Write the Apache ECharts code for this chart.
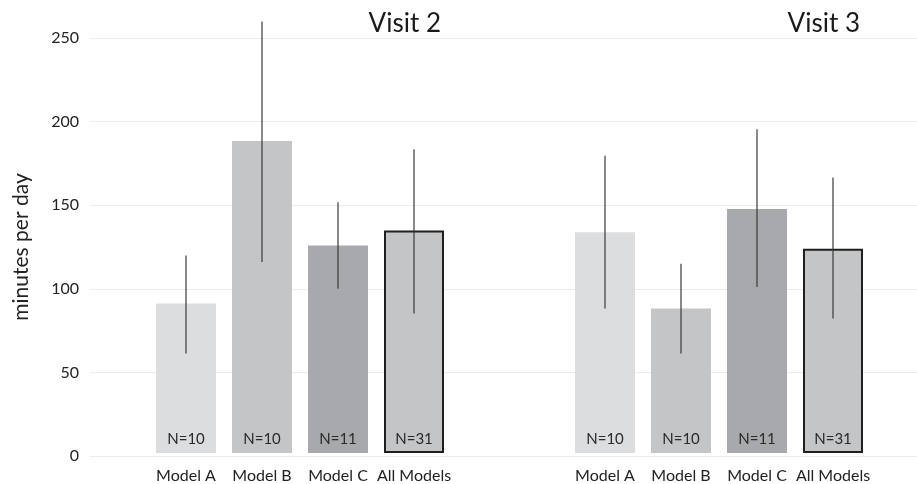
<!DOCTYPE html>
<html>
<head>
<meta charset="utf-8">
<script src="https://cdn.jsdelivr.net/npm/echarts@6/dist/echarts.min.js"></script>
<style>
  html, body { margin: 0; padding: 0; background: #fff; }
  #chart { width: 917px; height: 484px; }
</style>
</head>
<body>
<div id="chart"></div>
<script>
// Categories and per-visit summaries (mean with lower/upper error bounds)
const categories = ['Model A', 'Model B', 'Model C', 'All Models'];
const sampleSizes = ['N=10', 'N=10', 'N=11', 'N=31'];

const visit2Mean = [90, 188, 125, 134];
const visit2Low  = [60, 115, 99, 84];
const visit2High = [119, 260, 151, 183];

const visit3Mean = [133, 87, 147, 123];
const visit3Low  = [87, 60, 100, 81];
const visit3High = [179, 114, 195, 166];

const panelTitles = ['Visit 2', 'Visit 3'];
const yTicks = [0, 50, 100, 150, 200, 250];

const barColors = ['#dcdddf', '#c4c5c7', '#a8a9ac', '#c4c5c7'];
const FONT = 'Lato, "Open Sans", sans-serif';

const chart = echarts.init(document.getElementById('chart'), null, { renderer: 'canvas' });

const GRID_TOP = 38, GRID_BOTTOM = 28;

function barData(means) {
  return means.map((v, i) => {
    const item = { value: v, itemStyle: { color: barColors[i] } };
    if (i === categories.length - 1) {
      item.itemStyle.borderColor = '#1f1f1f';
      item.itemStyle.borderWidth = 2;
    }
    return item;
  });
}

function errData(low, high) {
  return low.map((l, i) => [i, l, high[i]]);
}

function errorSeries(axisIndex, low, high) {
  return {
    type: 'custom',
    xAxisIndex: axisIndex,
    yAxisIndex: axisIndex,
    clip: false,
    silent: true,
    z: 5,
    data: errData(low, high),
    renderItem: function (params, api) {
      const i = api.value(0);
      const p1 = api.coord([i, api.value(1)]);
      const p2 = api.coord([i, api.value(2)]);
      return {
        type: 'line',
        shape: { x1: p1[0], y1: p1[1], x2: p2[0], y2: p2[1] },
        style: { stroke: '#3a3a3a', lineWidth: 1.2 }
      };
    }
  };
}

function barSeries(axisIndex, means) {
  return {
    type: 'bar',
    xAxisIndex: axisIndex,
    yAxisIndex: axisIndex,
    barWidth: 60,
    data: barData(means),
    label: {
      show: true,
      position: 'insideBottom',
      distance: 6,
      formatter: p => sampleSizes[p.dataIndex],
      color: '#2a2a2a',
      fontSize: 15,
      fontFamily: FONT
    }
  };
}

const catAxis = (gridIndex) => ({
  type: 'category',
  gridIndex: gridIndex,
  data: categories,
  axisLine: { show: false },
  axisTick: { show: false },
  axisLabel: { color: '#222', fontSize: 16, fontFamily: FONT, margin: 15, interval: 0 }
});

const hiddenY = (gridIndex) => ({
  type: 'value',
  gridIndex: gridIndex,
  min: 0, max: 250, interval: 50,
  show: false
});

chart.setOption({
  backgroundColor: '#fff',
  animation: false,
  title: [
    { text: panelTitles[0], right: 471, top: 6,
      textStyle: { fontSize: 26, fontWeight: 'normal', color: '#1a1a1a', fontFamily: FONT } },
    { text: panelTitles[1], right: 52, top: 6,
      textStyle: { fontSize: 26, fontWeight: 'normal', color: '#1a1a1a', fontFamily: FONT } }
  ],
  grid: [
    { left: 90, right: 0, top: GRID_TOP, bottom: GRID_BOTTOM },
    { left: 148, width: 304, top: GRID_TOP, bottom: GRID_BOTTOM },
    { left: 567, width: 304, top: GRID_TOP, bottom: GRID_BOTTOM }
  ],
  xAxis: [
    { type: 'value', gridIndex: 0, show: false, min: 0, max: 1 },
    catAxis(1),
    catAxis(2)
  ],
  yAxis: [
    {
      type: 'value',
      gridIndex: 0,
      min: yTicks[0], max: yTicks[yTicks.length - 1], interval: 50,
      name: 'minutes per day',
      nameLocation: 'middle',
      nameRotate: 90,
      nameGap: 58,
      nameTextStyle: { fontSize: 21, color: '#222', fontFamily: FONT },
      axisLine: { show: false },
      axisTick: { show: false },
      axisLabel: { color: '#222', fontSize: 16, fontFamily: FONT, margin: 11 },
      splitLine: { lineStyle: { color: '#ececec', width: 1 } }
    },
    hiddenY(1),
    hiddenY(2)
  ],
  series: [
    barSeries(1, visit2Mean),
    errorSeries(1, visit2Low, visit2High),
    barSeries(2, visit3Mean),
    errorSeries(2, visit3Low, visit3High)
  ]
});
</script>
</body>
</html>
